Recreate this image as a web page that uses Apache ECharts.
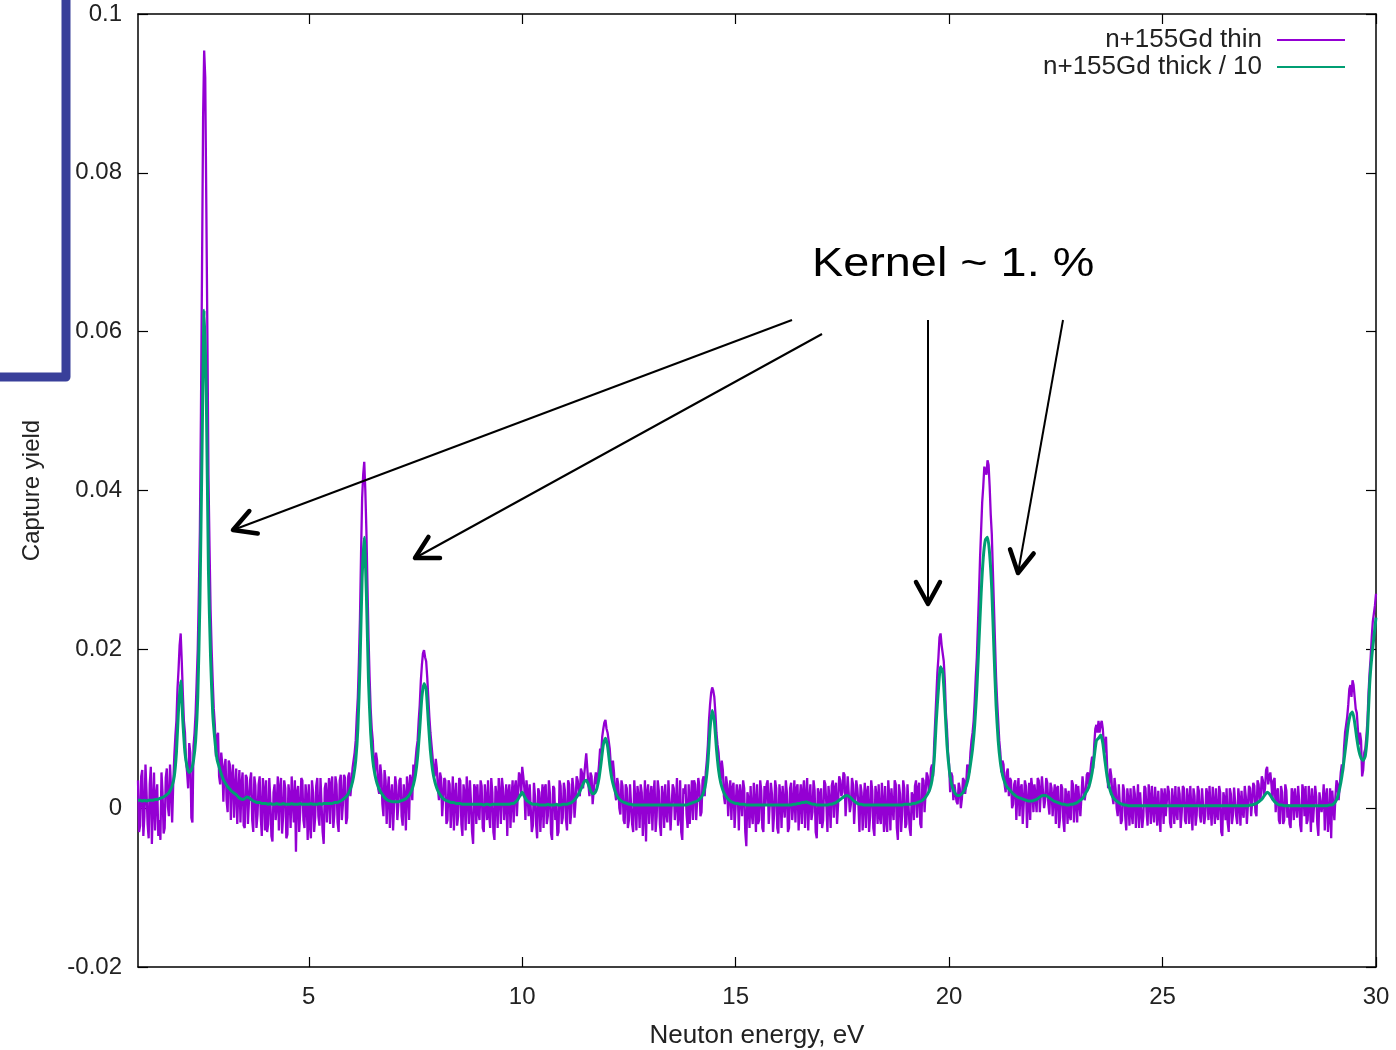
<!DOCTYPE html>
<html><head><meta charset="utf-8">
<script src="https://cdn.jsdelivr.net/npm/echarts@6/dist/echarts.min.js"></script>
<style>html,body{margin:0;padding:0;background:#fff}#c{width:1396px;height:1050px}</style>
</head><body><div id="c"></div>
<script>
// Sampling grid of the scan (eV): E = E_START + i * E_STEP
// thin run also has readings half-way between grid points (thinMidY)
const E_START = 1.0, E_STEP = 0.05;
// Values are given in units of 1e-4 capture yield
const YIELD_UNIT = 1e-4;

const seriesNames = ['n+155Gd thin', 'n+155Gd thick / 10'];
const xTicks = [5, 10, 15, 20, 25, 30];
const xAxisTitle = 'Neuton energy, eV';
const yAxisTitle = 'Capture yield';
const annotationText = 'Kernel ~ 1. %';

// n+155Gd thin at grid points (rows of 0.5 eV)
const thinY = [
  35,-22,48,-10,20,-38,52,5,-28,30,            // 1.00
  -15,45,-32,38,2,55,-18,65,110,175,           // 1.50
  220,145,95,45,82,-12,78,120,200,350,         // 2.00
  680,954,760,420,250,160,105,90,40,70,        // 2.50
  8,62,-5,55,40,-12,50,20,-18,45,              // 3.00
  -25,38,10,45,-30,28,-8,40,-35,22,            // 3.50
  35,-20,10,-42,30,5,-28,38,-10,25,            // 4.00
  -33,15,40,-18,-55,28,-5,35,-25,12,           // 4.50
  30,-38,20,-12,38,-22,5,-45,32,15,            // 5.00
  -20,40,-8,30,-30,42,5,38,-12,45,             // 5.50
  30,60,85,140,240,390,436,350,215,125,        // 6.00
  85,45,60,18,42,-10,35,22,-25,30,             // 6.50
  -30,28,5,38,-22,15,40,-15,35,55,             // 7.00
  60,85,130,180,199,185,140,95,65,40,          // 7.50
  50,10,38,-8,35,-15,30,5,-28,32,              // 8.00
  -10,35,-35,18,40,-20,8,-45,25,30,            // 8.50
  -15,28,-30,10,35,-25,20,-40,15,38,           // 9.00
  -20,25,5,-35,30,12,-18,35,20,40,             // 9.50
  52,25,35,-10,28,-22,15,-38,20,5,             // 10.00
  -25,30,-10,18,-40,25,5,-30,28,-12,           // 10.50
  22,-28,30,-5,25,8,35,15,45,40,               // 11.00
  69,30,45,5,35,30,55,70,100,111,              // 11.50
  95,75,40,45,10,30,-8,28,-20,25,              // 12.00
  -15,32,-30,10,28,-25,20,-5,-42,30,           // 12.50
  12,-28,35,-10,22,-35,15,30,-18,8,            // 13.00
  -30,25,5,-22,35,-40,18,-8,30,10,             // 13.50
  -15,30,12,28,-5,40,45,80,130,152,            // 14.00
  140,95,70,35,48,5,30,20,-15,32,              // 14.50
  -25,18,30,-10,25,-48,12,28,-20,8,            // 15.00
  30,-15,22,-30,5,35,-22,18,-8,25,             // 15.50
  -32,15,28,-12,20,-25,32,5,-18,30,            // 16.00
  10,-20,35,15,-28,30,-5,22,-38,18,            // 16.50
  25,-15,30,-30,10,28,-12,32,5,35,             // 17.00
  20,42,15,40,5,30,-18,25,-30,20,              // 17.50
  8,-25,28,-10,22,-35,15,30,-20,5,             // 18.00
  28,-30,12,25,-15,30,-40,18,-8,25,            // 18.50
  -20,30,-35,15,28,-12,32,-25,35,20,           // 19.00
  40,25,55,80,140,190,220,205,160,100,         // 19.50
  55,45,10,30,5,25,12,35,30,50,                // 20.00
  70,95,135,190,270,350,405,425,438,405,       // 20.50
  345,255,165,110,70,60,30,45,15,35,           // 21.00
  5,35,20,-10,30,-22,28,8,-15,25,              // 21.50
  30,-5,35,20,38,10,32,-8,25,15,               // 22.00
  -20,28,-12,25,-30,15,22,-15,30,10,           // 22.50
  -18,30,15,38,20,45,40,65,80,105,             // 23.00
  110,105,100,70,55,30,40,5,25,-10,            // 23.50
  28,-15,22,-28,10,25,-20,18,5,-25,            // 24.00
  20,-10,25,-22,12,28,-18,5,22,-30,            // 24.50
  15,25,-12,20,-25,8,28,-15,18,-5,             // 25.00
  25,-20,10,28,-28,15,-8,22,-18,26,            // 25.50
  -10,18,28,-22,5,25,-15,20,-35,12,            // 26.00
  25,-30,18,-8,28,-20,10,22,-12,15,            // 26.50
  -18,25,8,28,-10,30,15,35,25,52,              // 27.00
  40,30,35,-5,25,-20,20,-15,22,5,              // 27.50
  -25,18,25,-12,10,-30,22,28,-15,8,            // 28.00
  25,-20,15,-35,22,8,-28,25,-10,-38,           // 28.50
  20,15,30,28,55,75,105,130,155,161,           // 29.00
  140,120,80,85,48,75,110,170,215,245,         // 29.50
  270                                          // 30.00
];

// n+155Gd thin at half-grid points E_START + E_STEP/2 + i*E_STEP (rows of 0.5 eV)
const thinMidY = [
  -30,40,-35,55,-20,30,-45,45,15,-35,          // 1.025
  -40,20,-25,50,-10,25,30,90,150,205,          // 1.525
  185,110,60,25,70,-18,95,160,270,500,         // 2.025
  870,920,600,330,200,125,65,95,30,55,         // 2.525
  50,10,60,-15,55,25,-20,48,30,-22,            // 3.025
  42,-20,35,-15,40,-25,30,-10,38,-28,          // 3.525
  -30,38,-35,20,-15,40,25,-32,35,-38,          // 4.025
  30,-25,10,35,20,-30,38,-15,30,-40,           // 4.525
  -20,35,-30,28,-10,38,-30,25,-18,38,          // 5.025
  30,-25,40,-18,35,-15,42,-20,40,15,           // 5.525
  50,70,115,185,320,420,400,280,165,100,       // 6.025
  55,70,25,55,5,48,-20,40,15,-28,              // 6.525
  40,-15,35,-10,30,-28,25,42,10,40,            // 7.025
  75,110,160,195,190,165,115,80,45,62,         // 7.525
  25,45,-10,38,-20,35,-25,40,15,-22,           // 8.025
  38,-20,30,-28,15,35,-30,30,-20,-5,           // 8.525
  35,-25,30,-15,-8,38,-30,28,-25,18,           // 9.025
  38,-15,30,20,-25,35,25,-10,45,15,            // 9.525
  40,-15,20,30,-30,32,-20,25,-30,30,           // 10.025
  25,-20,35,-32,28,-15,-35,35,-20,32,          // 10.525
  -15,35,-20,38,-12,40,20,50,25,55,            // 11.025
  50,15,40,22,45,40,75,90,108,100,             // 11.525
  85,55,60,20,38,0,35,-15,30,-25,              // 12.025
  30,-20,35,-28,15,30,-35,35,20,-20,           // 12.525
  28,18,-30,35,-20,28,-25,-5,35,-28,           // 13.025
  30,-15,38,-10,-30,25,30,-25,-20,35,          // 13.525
  35,-15,38,-10,35,15,60,110,145,148,          // 14.025
  120,80,50,60,15,40,-10,35,25,-25,            // 14.525
  30,-28,15,35,-30,20,-25,-5,32,-30,           // 15.025
  -20,35,-25,28,30,-20,32,-30,35,-25,          // 15.525
  30,-25,5,35,-30,25,-15,35,25,-28,            // 16.025
  30,20,-25,38,10,-15,35,-30,25,-20,           // 16.525
  -25,35,5,28,-25,35,25,-20,40,15,             // 17.025
  45,-10,40,-5,38,-20,35,5,30,-28,             // 17.525
  32,20,-30,35,-25,28,-20,-10,32,-30,          // 18.025
  -15,35,-28,0,35,-25,30,-30,35,-25,           // 18.525
  30,-25,20,-15,35,25,-20,38,-5,45,            // 19.025
  20,50,40,110,170,215,205,185,120,70,         // 19.525
  20,40,30,8,32,0,38,18,55,45,                 // 20.025
  85,110,165,230,315,385,430,420,432,370,      // 20.525
  300,210,135,85,45,55,20,50,38,0,             // 21.025
  30,-15,38,25,-20,35,-25,32,38,-5,            // 21.525
  15,38,-5,40,0,38,5,32,-10,30,                // 22.025
  25,-25,30,-15,25,-20,-10,35,-18,30,          // 22.525
  28,-10,40,10,42,25,55,50,100,95,             // 23.025
  95,110,80,90,25,50,15,38,0,30,               // 23.525
  -20,30,-10,25,-22,-5,28,-25,30,20,           // 24.025
  -25,28,-5,30,-20,0,27,-22,-8,25,             // 24.525
  -20,-10,28,-18,25,-20,-5,27,-25,28,          // 25.025
  -15,25,-20,0,25,-22,28,-10,25,-20,           // 25.525
  25,-15,0,27,-20,-8,28,-30,20,-15,            // 26.025
  -18,25,-20,26,-10,25,-22,-5,28,-20,          // 26.525
  28,-10,32,-5,35,8,40,15,48,30,               // 27.025
  45,10,38,20,-15,28,-20,30,-12,-20,           // 27.525
  25,-15,5,28,-22,30,-10,-20,28,-30,           // 28.025
  -18,28,-20,20,-5,30,15,-30,25,22,            // 28.525
  -15,35,10,45,45,95,115,150,140,155,          // 29.025
  125,100,95,40,70,90,145,190,235,255          // 29.525
];

// n+155Gd thick / 10 at grid points (rows of 0.5 eV)
const thickY = [
  10,10,9,10,9,10,10,10,11,11,                 // 1.00
  12,13,14,16,18,22,28,40,70,125,              // 1.50
  160,110,70,52,45,48,60,85,140,260,           // 2.00
  450,627,520,300,190,120,86,62,52,43,         // 2.50
  36,31,27,24,21,19,17,14,12,11,               // 3.00
  12,14,13,11,9,8,7,7,6,6,                     // 3.50
  6,5,6,5,5,6,5,5,6,5,                         // 4.00
  5,5,6,5,5,5,6,5,5,5,                         // 4.50
  5,6,5,5,5,6,5,6,6,6,                         // 5.00
  6,6,7,7,8,9,11,13,16,21,                     // 5.50
  28,40,60,100,180,290,341,270,160,95,         // 6.00
  60,42,31,24,19,15,12,10,9,8,                 // 6.50
  8,8,8,9,10,11,13,16,21,29,                   // 7.00
  42,65,100,140,157,150,110,72,48,34,          // 7.50
  25,19,15,12,10,9,8,7,7,6,                    // 8.00
  6,6,5,5,5,5,5,5,5,5,                         // 8.50
  5,5,4,5,5,4,5,5,5,5,                         // 9.00
  5,5,5,5,5,6,6,8,11,16,                       // 9.50
  20,15,10,8,6,5,5,5,4,4,                      // 10.00
  4,4,5,4,4,4,5,4,4,5,                         // 10.50
  5,5,6,7,9,12,16,21,27,33,                    // 11.00
  35,30,22,18,19,25,38,58,80,88,               // 11.50
  78,55,37,26,18,13,10,8,7,6,                  // 12.00
  5,5,4,4,4,4,4,4,4,4,                         // 12.50
  4,4,4,4,4,4,4,4,4,4,                         // 13.00
  4,4,4,4,4,4,4,4,5,6,                         // 13.50
  7,8,9,11,14,20,32,58,100,123,                // 14.00
  110,75,48,32,23,17,13,10,8,7,                // 14.50
  6,6,5,5,5,4,4,4,4,4,                         // 15.00
  4,4,4,4,4,4,4,4,4,4,                         // 15.50
  4,4,4,4,4,4,4,5,5,6,                         // 16.00
  6,7,7,8,7,6,5,5,4,4,                         // 16.50
  4,4,4,4,5,5,6,7,9,11,                        // 17.00
  13,15,16,15,13,10,8,6,5,5,                   // 17.50
  4,4,4,4,4,4,4,4,4,4,                         // 18.00
  4,4,4,4,4,4,4,4,4,5,                         // 18.50
  5,5,5,6,6,7,8,9,11,14,                       // 19.00
  18,24,35,60,110,150,178,172,130,80,          // 19.50
  50,32,23,18,16,16,18,22,28,38,               // 20.00
  55,75,105,150,210,270,315,338,341,320,       // 20.50
  275,200,130,85,58,42,33,27,24,21,            // 21.00
  18,16,14,13,12,11,10,9,9,9,                  // 21.50
  10,11,13,15,16,16,15,13,11,9,                // 22.00
  8,7,6,5,5,4,4,5,5,6,                         // 22.50
  7,9,11,14,19,24,32,45,65,85,                 // 23.00
  88,92,82,60,40,27,18,13,10,8,                // 23.50
  6,5,4,4,3,3,3,3,3,3,                         // 24.00
  3,3,3,3,3,3,3,3,3,3,                         // 24.50
  3,3,3,3,3,3,3,3,3,3,                         // 25.00
  3,3,3,3,3,3,3,3,3,3,                         // 25.50
  3,3,3,3,3,3,3,3,3,3,                         // 26.00
  3,3,3,3,3,3,3,3,3,3,                         // 26.50
  3,4,4,5,6,8,10,13,17,20,                     // 27.00
  18,14,10,7,5,4,4,3,3,3,                      // 27.50
  3,3,3,3,3,3,3,3,3,3,                         // 28.00
  3,3,3,3,3,3,3,3,4,4,                         // 28.50
  5,8,14,25,40,60,82,105,118,121,              // 29.00
  108,88,72,63,60,66,95,155,190,215,           // 29.50
  240                                          // 30.00
];

const gridE = i => +(E_START + i * E_STEP).toFixed(3);
const toPairs = arr => arr.map((v, i) => [gridE(i), v * YIELD_UNIT]);
const thinPairs = [];
thinY.forEach((v, i) => {
  thinPairs.push([gridE(i), v * YIELD_UNIT]);
  if (i < thinMidY.length) thinPairs.push([+(gridE(i) + E_STEP / 2).toFixed(3), thinMidY[i] * YIELD_UNIT]);
});

const FONT = 'Liberation Sans';
const chart = echarts.init(document.getElementById('c'), null, {renderer: 'canvas'});

// annotation arrows (pixel positions on the slide)
const arrows = [
  [792, 320, 233, 530],
  [822, 334, 415, 558],
  [928, 320, 928, 604],
  [1063, 320, 1018, 573]
];
const graphics = [];
arrows.forEach(([x1, y1, x2, y2]) => {
  graphics.push({type: 'line', z: 100, shape: {x1, y1, x2, y2},
    style: {stroke: '#000', lineWidth: 2}});
  const a = Math.atan2(y2 - y1, x2 - x1), L = 25, h = 0.5;
  graphics.push({type: 'polyline', z: 100,
    shape: {points: [[x2 - L * Math.cos(a - h), y2 - L * Math.sin(a - h)], [x2, y2],
                     [x2 - L * Math.cos(a + h), y2 - L * Math.sin(a + h)]]},
    style: {stroke: '#000', lineWidth: 4.5, fill: null, lineCap: 'round', lineJoin: 'round'}});
});
graphics.push({type: 'text', z: 100, x: 812, y: 245, scaleX: 1.17, originX: 0,
  style: {text: annotationText, font: '40px "Liberation Sans"', fill: '#000'}});
graphics.push({type: 'polyline', z: 100,
  shape: {points: [[-10, 377], [66, 377], [66, -10]]},
  style: {stroke: '#393f9a', lineWidth: 9, fill: null, lineJoin: 'round'}});

const axisText = {color: '#222', fontFamily: FONT, fontSize: 24};
const legendBase = {
  right: 51, orient: 'horizontal', align: 'right', padding: 0,
  itemWidth: 68, itemHeight: 2, icon: 'path://M0,0 L68,0 L68,2 L0,2 Z',
  textStyle: {color: '#222', fontFamily: FONT, fontSize: 26, padding: [0, 10, 0, 0]}
};

chart.setOption({
  animation: false,
  backgroundColor: '#fff',
  grid: {left: 138, right: 20, top: 14, bottom: 83, containLabel: false, outerBoundsMode: 'none'},
  legend: [
    Object.assign({}, legendBase, {data: [seriesNames[0]], top: 27}),
    Object.assign({}, legendBase, {data: [seriesNames[1]], top: 54})
  ],
  xAxis: [{
    type: 'value', min: 1, max: 30, position: 'bottom',
    name: xAxisTitle, nameLocation: 'middle', nameGap: 56,
    nameTextStyle: {color: '#222', fontFamily: FONT, fontSize: 26},
    axisLine: {onZero: false, lineStyle: {color: '#000', width: 1.5}},
    axisTick: {inside: true, length: 10, customValues: xTicks, lineStyle: {color: '#000', width: 1.2}},
    axisLabel: Object.assign({customValues: xTicks, margin: 18}, axisText),
    splitLine: {show: false}
  }, {
    type: 'value', min: 1, max: 30, position: 'top',
    axisLine: {onZero: false, lineStyle: {color: '#000', width: 1.5}},
    axisTick: {inside: true, length: 10, customValues: xTicks, lineStyle: {color: '#000', width: 1.2}},
    axisLabel: {show: false},
    splitLine: {show: false}
  }],
  yAxis: [{
    type: 'value', min: -0.02, max: 0.1, interval: 0.02, position: 'left',
    name: yAxisTitle, nameLocation: 'middle', nameGap: 94, nameRotate: 90,
    nameTextStyle: {color: '#222', fontFamily: FONT, fontSize: 24},
    axisLine: {show: true, onZero: false, lineStyle: {color: '#000', width: 1.5}},
    axisTick: {show: true, inside: true, length: 10, lineStyle: {color: '#000', width: 1.2}},
    axisLabel: Object.assign({margin: 16}, axisText),
    splitLine: {show: false}
  }, {
    type: 'value', min: -0.02, max: 0.1, interval: 0.02, position: 'right',
    axisLine: {show: true, onZero: false, lineStyle: {color: '#000', width: 1.5}},
    axisTick: {show: true, inside: true, length: 10, lineStyle: {color: '#000', width: 1.2}},
    axisLabel: {show: false},
    splitLine: {show: false}
  }],
  series: [{
    name: seriesNames[0], type: 'line', data: thinPairs,
    symbol: 'none', color: '#9400d3',
    lineStyle: {color: '#9400d3', width: 2.3}, clip: true, z: 2
  }, {
    name: seriesNames[1], type: 'line', data: toPairs(thickY),
    symbol: 'none', color: '#009e73', smooth: 0.2,
    lineStyle: {color: '#009e73', width: 3}, clip: true, z: 3
  }],
  graphic: graphics
});
</script>
</body></html>
